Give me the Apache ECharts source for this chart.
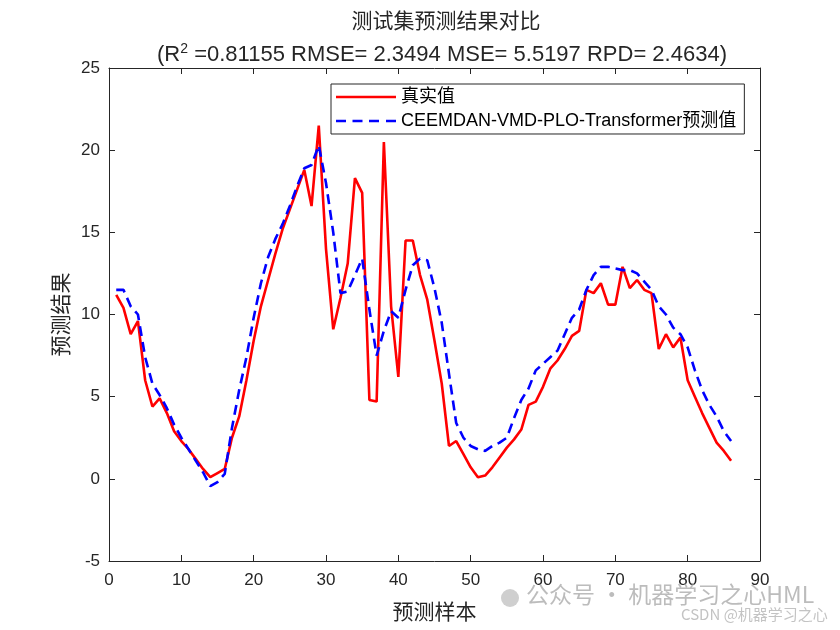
<!DOCTYPE html>
<html><head><meta charset="utf-8">
<script src="https://cdn.jsdelivr.net/npm/echarts@6/dist/echarts.min.js"></script>
<style>html,body{margin:0;padding:0;background:#fff}#c{width:840px;height:630px}</style>
</head><body><div id="c"></div>
<script>
const titleText = '测试集预测结果对比';
const metricsText = ['R', '2', ' =0.81155 RMSE= 2.3494 MSE= 5.5197 RPD= 2.4634)'];
const xLabel = '预测样本';
const yLabel = '预测结果';
const seriesNames = ['真实值', 'CEEMDAN-VMD-PLO-Transformer预测值'];
const actual = [11.2,10.4,8.8,9.6,6.0,4.4,4.9,4.0,2.9,2.3,1.8,1.2,0.6,0.1,0.35,0.6,2.5,3.8,6.0,8.4,
  10.5,12.1,13.7,15.2,16.4,17.6,18.8,16.6,21.5,14.0,9.1,11.0,13.1,18.3,17.4,4.8,4.7,20.5,10.5,6.2,
  14.5,14.5,12.4,10.9,8.4,5.8,2.0,2.3,1.5,0.7,0.1,0.2,0.7,1.3,1.9,2.4,3.0,4.5,4.7,5.6,
  6.7,7.2,7.9,8.7,9.0,11.5,11.3,11.9,10.6,10.6,12.9,11.6,12.1,11.5,11.3,7.9,8.8,8.0,8.6,6.0,
  5.0,4.0,3.1,2.2,1.7,1.1];
const predicted = [11.5,11.5,10.5,10.0,7.4,5.8,5.1,4.3,3.3,2.5,1.8,1.1,0.4,-0.45,-0.2,0.3,3.1,5.4,7.4,9.8,
  11.9,13.5,14.6,15.5,16.6,17.8,18.9,19.1,20.3,18.0,15.0,11.3,11.4,12.4,13.4,10.3,7.5,9.0,10.2,9.8,
  11.5,13.0,13.4,13.3,11.6,9.5,6.4,3.4,2.5,2.0,1.8,1.7,2.0,2.2,2.5,3.7,4.8,5.5,6.6,7.0,
  7.4,7.8,8.8,9.8,10.3,11.5,12.4,12.9,12.9,12.8,12.7,12.7,12.5,12.0,11.5,10.5,10.0,9.2,8.8,8.0,
  6.6,5.4,4.5,3.8,2.9,2.3];
const xTicks = [0,10,20,30,40,50,60,70,80,90];
const yTicks = [-5,0,5,10,15,20,25];

const pair = arr => arr.map((v,i)=>[i+1, v]);
const font = 'Arial, "Liberation Sans", "Noto Sans CJK SC", sans-serif';
const cjk = '"Noto Sans CJK SC", "Liberation Sans", sans-serif';
const axisCommon = {
  axisLine:{show:true,onZero:false,lineStyle:{color:'#262626',width:1}},
  axisTick:{show:true,inside:true,length:6,lineStyle:{color:'#262626'}},
  splitLine:{show:false}
};
const chart = echarts.init(document.getElementById('c'));
chart.setOption({
  animation:false,
  backgroundColor:'#fff',
  grid:{left:109,right:80,top:68,bottom:69,containLabel:false},
  title:[
    {text:titleText,left:441,top:5,textAlign:'center',
     textStyle:{fontFamily:cjk,fontSize:21,fontWeight:'normal',color:'#262626'}},
    {text:'{a|(}{a|'+metricsText[0]+'}{s|'+metricsText[1]+'}{a|'+metricsText[2]+'}',left:437,top:37,textAlign:'center',
     textStyle:{fontWeight:'normal',rich:{a:{fontFamily:font,fontSize:22,fontWeight:'normal',color:'#262626',verticalAlign:'bottom'},
                      s:{fontFamily:font,fontSize:14,fontWeight:'normal',color:'#262626',verticalAlign:'top',padding:[0,0,10,0]}}}}
  ],
  legend:{
    orient:'vertical',left:331,top:84,
    padding:[4,8,4,5],itemGap:6,itemWidth:60,itemHeight:14,
    backgroundColor:'#fff',borderColor:'#262626',borderWidth:1,borderRadius:0,
    textStyle:{fontFamily:font,fontSize:18,color:'#000'},
    data:[{name:seriesNames[0],icon:'path://M0,6L60,6L60,8.6L0,8.6Z'},
          {name:seriesNames[1],icon:'path://M0,6h10v2.6h-10z M16.5,6h10v2.6h-10z M33,6h10v2.6h-10z M50,6h10v2.6h-10z'}]
  },
  xAxis:[
    Object.assign({type:'value',min:xTicks[0],max:xTicks[xTicks.length-1],interval:10,position:'bottom',
      name:xLabel,nameLocation:'middle',nameGap:40,
      nameTextStyle:{fontFamily:cjk,fontSize:21,color:'#262626'},
      axisLabel:{fontFamily:font,fontSize:17,color:'#262626',margin:11}},axisCommon),
    Object.assign({type:'value',min:xTicks[0],max:xTicks[xTicks.length-1],interval:10,position:'top',
      axisLabel:{show:false}},axisCommon)
  ],
  yAxis:[
    Object.assign({type:'value',min:yTicks[0],max:yTicks[yTicks.length-1],interval:5,position:'left',
      name:yLabel,nameLocation:'middle',nameGap:38,
      nameTextStyle:{fontFamily:cjk,fontSize:21,color:'#262626'},
      axisLabel:{fontFamily:font,fontSize:17,color:'#262626',margin:9}},axisCommon),
    Object.assign({type:'value',min:yTicks[0],max:yTicks[yTicks.length-1],interval:5,position:'right',
      axisLabel:{show:false}},axisCommon)
  ],
  series:[
    {name:seriesNames[0],type:'line',data:pair(actual),showSymbol:false,symbol:'none',
     lineStyle:{color:'#ff0000',width:2.6},itemStyle:{color:'#ff0000'},z:2},
    {name:seriesNames[1],type:'line',data:pair(predicted),showSymbol:false,symbol:'none',
     lineStyle:{color:'#0000ff',width:2.6,type:[10,6]},itemStyle:{color:'#0000ff'},z:3}
  ],
  graphic:[
    {type:'circle',shape:{cx:510,cy:598,r:9},style:{fill:'#cfcfcf'},z:100},
    {type:'text',left:526,top:583,style:{text:'公众号 · 机器学习之心HML',font:'23px "Noto Sans CJK SC", sans-serif',fill:'rgba(160,160,160,0.7)'},z:100},
    {type:'text',left:681,top:607,style:{text:'CSDN @机器学习之心',font:'15px "Noto Sans CJK SC", sans-serif',fill:'rgba(175,175,175,0.75)'},z:100}
  ]
});
</script></body></html>
